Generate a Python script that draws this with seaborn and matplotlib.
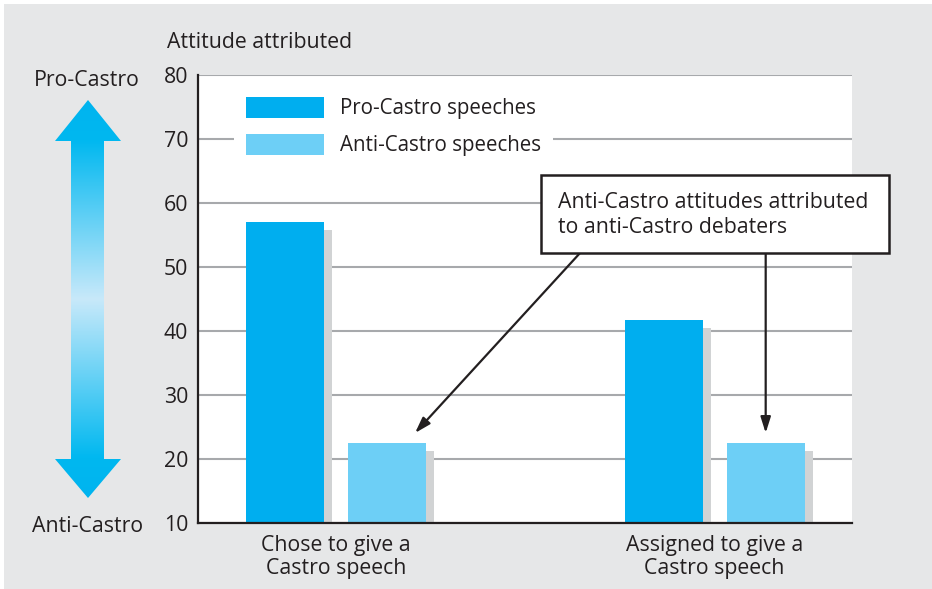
import numpy as np
import pandas as pd
import matplotlib
matplotlib.use("Agg")
import matplotlib.pyplot as plt
import seaborn as sns
from matplotlib.patches import Rectangle, Polygon, Patch
from matplotlib.transforms import ScaledTranslation
from matplotlib.colors import LinearSegmentedColormap

# ---- data ----
conditions = ["Chose to give a\nCastro speech", "Assigned to give a\nCastro speech"]
speech_types = ["Pro-Castro speeches", "Anti-Castro speeches"]
pro_values = [57.0, 41.7]
anti_values = [22.5, 22.5]
y_ticks = [10, 20, 30, 40, 50, 60, 70, 80]
scale_top = "Pro-Castro"
scale_bottom = "Anti-Castro"
y_title = "Attitude attributed"
callout = "Anti-Castro attitudes attributed\nto anti-Castro debaters"

# ---- style ----
PRO = "#00aeef"
ANTI = "#6dcff6"
SHADOW = "#d1d3d4"
BG = "#e6e7e8"
INK = "#231f20"
GRID = "#a7a9ac"
FS = 15.3
LFS = 14.8

W, H = 932, 589
sns.set_theme(style="white")
plt.rcParams["font.family"] = ["Open Sans", "DejaVu Sans"]
plt.rcParams["text.color"] = INK

fig = plt.figure(figsize=(W / 100, H / 100), dpi=100, facecolor="white")

# background layer in pixel coordinates
bg = fig.add_axes([0, 0, 1, 1], zorder=-10)
bg.set_xlim(0, W)
bg.set_ylim(H, 0)
bg.axis("off")
bg.add_patch(Rectangle((4, 4), W - 4, H - 4, color=BG, lw=0, zorder=0))

# double-headed gradient arrow for the attitude scale
pts = [(88, 100), (121, 141), (104, 141), (104, 459), (121, 459), (88, 498),
       (55, 459), (71, 459), (71, 141), (55, 141)]
arrow_poly = Polygon(pts, closed=True, facecolor="none", edgecolor="none", zorder=1)
bg.add_patch(arrow_poly)
cmap = LinearSegmentedColormap.from_list(
    "scale", [(0, "#00b4ef"), (0.1, "#00b8f0"), (0.5, "#c8e9fa"), (0.9, "#00b8f0"), (1, "#00b4ef")])
grad = np.linspace(0, 1, 256).reshape(-1, 1)
im = bg.imshow(grad, cmap=cmap, aspect="auto", extent=(55, 121, 498, 100),
               origin="upper", zorder=2, interpolation="bilinear")
im.set_clip_path(arrow_poly)
bg.set_xlim(0, W)
bg.set_ylim(H, 0)

bg.text(87, 80, scale_top, ha="center", va="center", fontsize=FS, color=INK)
bg.text(88, 526, scale_bottom, ha="center", va="center", fontsize=FS, color=INK)
bg.text(167, 42, y_title, ha="left", va="center", fontsize=FS, color=INK)

# ---- main bar chart ----
ax = fig.add_axes([198 / W, 1 - 523 / H, (852 - 198) / W, (523 - 75) / H])
ax.set_facecolor("white")
df = pd.DataFrame({
    "condition": conditions * 2,
    "speech": [speech_types[0]] * len(conditions) + [speech_types[1]] * len(conditions),
    "attitude": pro_values + anti_values,
})
sns.barplot(data=df, x="condition", y="attitude", hue="speech", hue_order=speech_types,
            palette=[PRO, ANTI], width=0.539, gap=0.235, saturation=1,
            legend=False, ax=ax, zorder=3, linewidth=0)

# drop shadows offset down and to the right of each bar
offset = ax.transData + ScaledTranslation(8 / 100, -8 / 100, fig.dpi_scale_trans)
for bar in list(ax.patches):
    sh = Rectangle(bar.get_xy(), bar.get_width(), bar.get_height(),
                   facecolor=SHADOW, edgecolor="none", transform=offset, zorder=2.5)
    ax.add_patch(sh)

ax.set_xlim(-0.3646, 1.363)
ax.set_ylim(10, 80)
ax.set_yticks(y_ticks)
ax.yaxis.grid(True, color=GRID, lw=1.5, zorder=0)
ax.xaxis.grid(False)
ax.set_axisbelow(True)
for s in ["top", "right"]:
    ax.spines[s].set_visible(False)
for s in ["left", "bottom"]:
    ax.spines[s].set_color(INK)
    ax.spines[s].set_linewidth(1.6)
    ax.spines[s].set_zorder(4)
ax.tick_params(axis="both", length=0, labelsize=FS, colors=INK)
ax.tick_params(axis="y", pad=7)
ax.tick_params(axis="x", pad=9)
for lab in ax.get_xticklabels():
    lab.set_linespacing(1.1)
ax.set_xlabel("")
ax.set_ylabel("")

handles = [Patch(facecolor=PRO, edgecolor="none"), Patch(facecolor=ANTI, edgecolor="none")]
leg = ax.legend(handles, speech_types, loc="upper left", bbox_to_anchor=(0.055, 0.978),
                borderaxespad=0, frameon=True, fancybox=False, framealpha=1,
                facecolor="white", edgecolor="none", fontsize=LFS,
                handlelength=3.79, handleheight=1.2, handletextpad=0.78,
                labelspacing=0.7, borderpad=0.58)
leg.set_zorder(5)

# callout box with arrows pointing at the anti-Castro bars
ax.add_patch(Rectangle((0.5416, 52.19), 0.9193, 12.19, facecolor="white", edgecolor=INK,
                       lw=1.8, clip_on=False, zorder=10))
ax.text(0.5865, 58.1, callout, ha="left", va="center", fontsize=FS, color=INK,
        linespacing=1.25, zorder=11)
arrow_kw = dict(arrowstyle="-|>,head_length=0.95,head_width=0.3", color=INK, lw=1.6,
                shrinkA=0, shrinkB=0, mutation_scale=10)
ax.annotate("", xy=(0.2087, 24.06), xytext=(0.6446, 52.19), arrowprops=arrow_kw,
            annotation_clip=False, zorder=9)
ax.annotate("", xy=(1.135, 24.06), xytext=(1.135, 52.19), arrowprops=arrow_kw,
            annotation_clip=False, zorder=9)

fig.savefig("out.png", dpi=100, facecolor="white")
